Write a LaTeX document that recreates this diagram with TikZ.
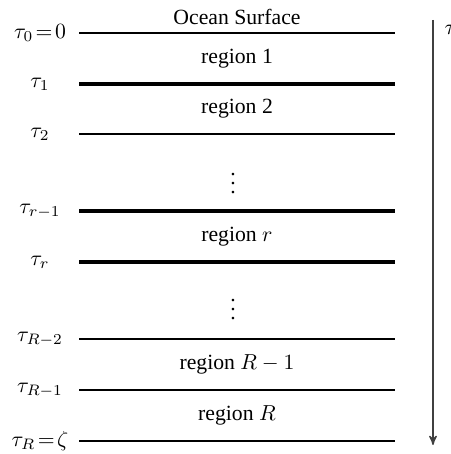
\documentclass[tikz,border=0pt]{standalone}
\usepackage{fontspec}
\setmainfont{Liberation Serif}
\usetikzlibrary{arrows,positioning}

\begin{document}
\begin{tikzpicture}[x=0.4608pt,y=-0.4608pt,>=stealth',semithick]
  \tikzstyle{layer}=[line width=0.7pt]
  \tikzstyle{boundary}=[line width=1.4pt]
  \tikzstyle{depth}=[anchor=center,inner sep=0pt]
  \useasboundingbox (0,0) rectangle (451,454);

  % interfaces
  \coordinate (l0) at (79,33);   \coordinate (r0) at (395,33);
  \coordinate (l1) at (79,84);   \coordinate (r1) at (395,84);
  \coordinate (l2) at (79,134);  \coordinate (r2) at (395,134);
  \coordinate (la) at (79,211);  \coordinate (ra) at (395,211);
  \coordinate (lb) at (79,262);  \coordinate (rb) at (395,262);
  \coordinate (lc) at (79,339);  \coordinate (rc) at (395,339);
  \coordinate (ld) at (79,390);  \coordinate (rd) at (395,390);
  \coordinate (le) at (79,441);  \coordinate (re) at (395,441);

  \draw[layer]    (l0) -- (r0);
  \draw[boundary] (l1) -- (r1);
  \draw[layer]    (l2) -- (r2);
  \draw[boundary] (la) -- (ra);
  \draw[boundary] (lb) -- (rb);
  \draw[layer]    (lc) -- (rc);
  \draw[layer]    (ld) -- (rd);
  \draw[layer]    (le) -- (re);

  % depth labels
  \node[depth] (t0) at (40,33)  {$\tau_0\!=\!0$};
  \node[depth] (t1) at (40,84)  {$\tau_1$};
  \node[depth] (t2) at (40,134) {$\tau_2$};
  \node[depth] (ta) at (40,211) {$\tau_{r-1}$};
  \node[depth] (tb) at (40,262) {$\tau_r$};
  \node[depth] (tc) at (40,339) {$\tau_{R-2}$};
  \node[depth] (td) at (40,390) {$\tau_{R-1}$};
  \node[depth] (te) at (40,441) {$\tau_R\!=\!\zeta$};

  % regions
  \node (surf) at (237,16.5) {Ocean Surface};
  \path (l0) -- (r1) node[midway] (reg1) {region 1};
  \path (l1) -- (r2) node[midway] (reg2) {region 2};
  \node[inner sep=0pt] (dots1) at (233,177) {$\vdots$};
  \path (la) -- (rb) node[midway] (regr) {region $r$};
  \node[inner sep=0pt] (dots2) at (233,303) {$\vdots$};
  \path (lc) -- (rd) node[midway] (regR1) {region $R-1$};
  \path (ld) -- (re) node[midway] (regR) {region $R$};

  % depth axis
  \coordinate (top) at (433,20);
  \coordinate (bot) at (433,445);
  \draw[->,black!75,line width=0.6pt] (top) -- (bot);
  \node[anchor=west,inner sep=0pt] (tau) at (444,30) {$\tau$};
\end{tikzpicture}
\end{document}
